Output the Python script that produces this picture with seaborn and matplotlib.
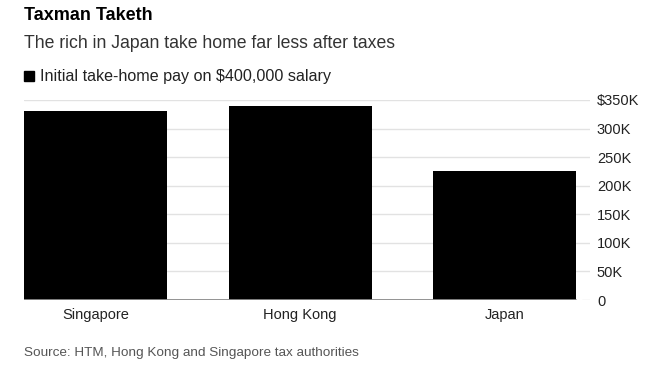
import matplotlib
matplotlib.use("Agg")
import matplotlib.pyplot as plt
import seaborn as sns
import pandas as pd

# data
countries = ["Singapore", "Hong Kong", "Japan"]
take_home = [331000, 340000, 226000]
y_ticks = [0, 50000, 100000, 150000, 200000, 250000, 300000, 350000]
y_tick_labels = ["0", "50K", "100K", "150K", "200K", "250K", "300K", "$350K"]

sns.set_theme(style="white")
plt.rcParams['font.family'] = ['Liberation Sans', 'DejaVu Sans']

df = pd.DataFrame({"country": countries, "pay": take_home})

fig = plt.figure(figsize=(6.58, 3.73), dpi=100)
ax = fig.add_axes([24 / 658, 1 - 300 / 373, (590 - 24) / 658, 200 / 373])

sns.barplot(data=df, x="country", y="pay", color="black", width=0.7,
            saturation=1, linewidth=0, ax=ax, zorder=2)

ax.set_xlim(-0.35, 2.417)
ax.set_ylim(0, 350000)

# gridlines behind bars
for t in y_ticks[1:]:
    ax.axhline(t, color="#e2e2e2", lw=1, zorder=0)
ax.axhline(0, xmin=0, xmax=(576 - 24) / (590 - 24), color="#8a8a8a", lw=1.3, zorder=3)
ax.axhline(0, xmin=(582 - 24) / (590 - 24), xmax=1, color="#e2e2e2", lw=1, zorder=0)

ax.yaxis.tick_right()
ax.set_yticks(y_ticks)
ax.set_yticklabels(y_tick_labels)
ax.tick_params(axis="y", length=0, pad=5, labelsize=10.5, labelcolor="#222222")
ax.tick_params(axis="x", length=0, pad=6, labelsize=10.5, labelcolor="#222222")
ax.set_xlabel("")
ax.set_ylabel("")
for s in ax.spines.values():
    s.set_visible(False)

# titles, legend, source
fig.text(24 / 658, 1 - 15 / 373, "Taxman Taketh", fontsize=13, fontweight="bold",
         color="black", va="center", ha="left")
fig.text(24 / 658, 1 - 44 / 373, "The rich in Japan take home far less after taxes",
         fontsize=12.7, color="#333333", va="center", ha="left")
fig.patches.append(plt.Rectangle((24 / 658, 1 - 81 / 373), 10 / 658, 10 / 373,
                                 transform=fig.transFigure, color="black"))
fig.text(40 / 658, 1 - 76.5 / 373, "Initial take-home pay on $400,000 salary",
         fontsize=11.6, color="#222222", va="center", ha="left")
fig.text(24 / 658, 1 - 353 / 373, "Source: HTM, Hong Kong and Singapore tax authorities",
         fontsize=9.7, color="#555555", va="center", ha="left")

fig.savefig("out.png", dpi=100)
